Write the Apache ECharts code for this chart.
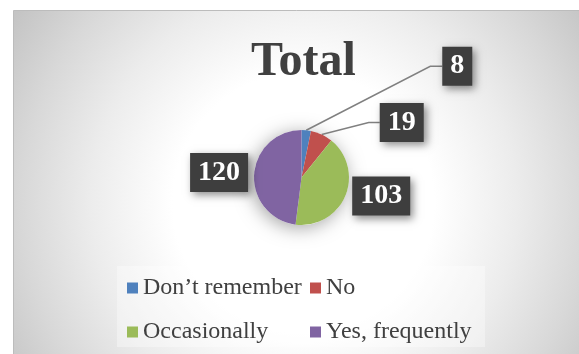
<!DOCTYPE html>
<html>
<head>
<meta charset="utf-8">
<script src="https://cdn.jsdelivr.net/npm/echarts@6/dist/echarts.min.js"></script>
<style>
  html, body { margin: 0; padding: 0; background: #ffffff; }
  #chart { width: 579px; height: 354px; }
</style>
</head>
<body>
<div id="chart"></div>
<script>
// ---- data ----
const categories = ["Don\u2019t remember", "No", "Occasionally", "Yes, frequently"];
const values = [8, 19, 103, 120];
const titleText = "Total";

// ---- style / layout (not data) ----
const colors = ["#4F81BD", "#C0504D", "#9BBB59", "#8064A2"];
const serif = "Liberation Serif";
// label offset from the slice's outer-edge midpoint; bend = elbow of leader line
const placement = [
  { dx: 136, dy: -64, align: "left", bend: [124, -64] },
  { dx: 58, dy: -12, align: "left", bend: [47, -12] },
  { dx: 7, dy: 0, align: "left", bend: null },
  { dx: -6, dy: -2, align: "right", bend: null }
];

const chart = echarts.init(document.getElementById("chart"), null, { renderer: "canvas" });

const pieData = categories.map(function (name, i) {
  const item = { name: name, value: values[i], itemStyle: { color: colors[i] } };
  if (!placement[i].bend) {
    item.labelLine = { show: true, lineStyle: { opacity: 0 } };
  }
  return item;
});

const legendText = {
  fontFamily: serif, fontSize: 24, lineHeight: 23, color: "#404040",
  rich: { t: { fontFamily: serif, fontSize: 24, lineHeight: 23, color: "#404040" } }
};
const legendFmt = function (name) { return "{t|" + name + "}"; };

chart.setOption({
  animation: false,
  backgroundColor: "transparent",
  textStyle: { fontFamily: serif },
  graphic: [
    {
      type: "rect", z: 0, silent: true,
      shape: { x: 13.5, y: 10.5, width: 580, height: 350 },
      style: {
        fill: {
          type: "radial", x: 0.5, y: 0.55, r: 0.98,
          colorStops: [
            { offset: 0, color: "#ffffff" },
            { offset: 0.38, color: "#ffffff" },
            { offset: 0.62, color: "#ececec" },
            { offset: 0.82, color: "#d8d8d8" },
            { offset: 1, color: "#c4c4c4" }
          ]
        },
        stroke: "#bcbcbc", lineWidth: 1
      }
    },
    {
      type: "rect", z: 1, silent: true,
      shape: { x: 117, y: 266, width: 368, height: 81 },
      style: { fill: "rgba(255,255,255,0.35)" }
    }
  ],
  title: {
    text: titleText,
    left: 251,
    top: 39,
    padding: 0,
    textStyle: { fontFamily: serif, fontSize: 48, fontWeight: "bold", color: "#404040" }
  },
  legend: [
    {
      data: [categories[0], categories[2]],
      orient: "vertical", left: 127, top: 276, padding: 0,
      itemGap: 20, itemWidth: 11, itemHeight: 11, icon: "rect",
      selectedMode: false, formatter: legendFmt, textStyle: legendText
    },
    {
      data: [categories[1], categories[3]],
      orient: "vertical", left: 310, top: 276, padding: 0,
      itemGap: 20, itemWidth: 11, itemHeight: 11, icon: "rect",
      selectedMode: false, formatter: legendFmt, textStyle: legendText
    }
  ],
  series: [
    {
      type: "pie", name: "shadow", silent: true, z: 1,
      center: [301.5, 177.5], radius: 47.5,
      label: { show: false }, labelLine: { show: false },
      itemStyle: { color: "#ffffff", shadowBlur: 18, shadowColor: "rgba(0,0,0,0.35)", shadowOffsetX: -2, shadowOffsetY: 3 },
      data: [{ value: 1, name: "__bg" }]
    },
    {
      type: "pie", name: titleText, z: 3,
      center: [301.5, 177.5], radius: 47.5,
      startAngle: 90, clockwise: true,
      avoidLabelOverlap: false,
      itemStyle: { borderWidth: 0 },
      label: {
        show: true, position: "outside", formatter: "{c}",
        fontFamily: serif, fontSize: 28, fontWeight: "bold", color: "#ffffff",
        lineHeight: 29,
        backgroundColor: "#3e3e3e",
        padding: [5, 8, 5, 8],
        shadowBlur: 8, shadowColor: "rgba(0,0,0,0.45)", shadowOffsetX: 3, shadowOffsetY: 3
      },
      labelLine: { show: true, length: 10, length2: 10, lineStyle: { color: "#808080", width: 1.5 } },
      labelLayout: function (p) {
        const cfg = placement[p.dataIndex];
        const pts = p.labelLinePoints;
        if (!pts) return {};
        const s = pts[0];
        const res = { x: s[0] + cfg.dx, y: s[1] + cfg.dy, align: cfg.align, verticalAlign: "middle" };
        if (cfg.bend) {
          res.labelLinePoints = [[s[0], s[1]], [s[0] + cfg.bend[0], s[1] + cfg.bend[1]], [res.x, res.y]];
        } else {
          res.labelLinePoints = [[s[0], s[1]], [s[0], s[1]], [s[0], s[1]]];
        }
        return res;
      },
      data: pieData
    }
  ]
});
</script>
</body>
</html>
